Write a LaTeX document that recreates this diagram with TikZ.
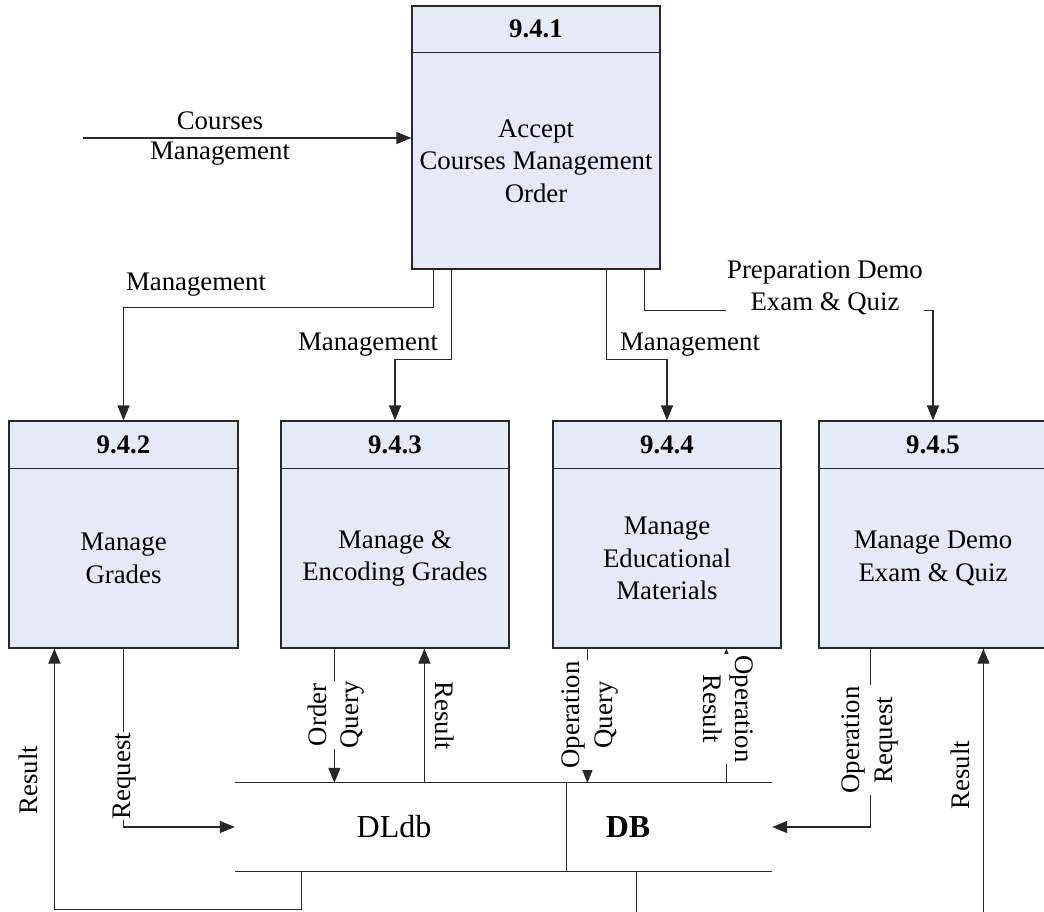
\documentclass[tikz,border=0pt]{standalone}
\usepackage{fontspec}
\setmainfont{Liberation Serif}
\usetikzlibrary{arrows.meta}
\definecolor{procfill}{RGB}{229,235,246}
\definecolor{ink}{RGB}{40,40,40}

\begin{document}
\begin{tikzpicture}[x=1pt,y=-1pt,
  every node/.style={font=\fontsize{26.8}{32.5}\selectfont, text=black},
  procbox/.style={draw=ink, fill=procfill, line width=1.2pt, inner sep=0pt},
  flow/.style={draw=ink, line width=1.2pt, -{Triangle[length=15pt,width=12pt]}},
  wire/.style={draw=ink, line width=1.2pt},
  lbl/.style={align=center, inner sep=1pt},
  onlbl/.style={lbl, fill=white},
  store/.style={inner sep=0pt, minimum height=88pt},
  storetxt/.style={font=\fontsize{32}{38}\selectfont},
]
\useasboundingbox (0,0) rectangle (1044,912);
\fill[white] (0,0) rectangle (1044,912);
\coordinate (bottomedge) at (0,912);

% ---- process 9.4.1 ----
\node[procbox, minimum width=248pt, minimum height=263pt] (p1) at (536,137.5) {};
\draw[wire] ([yshift=-47pt]p1.north west) -- ([yshift=-47pt]p1.north east);
\node (p1id) at ([yshift=-23.5pt]p1.north) {\bfseries 9.4.1};
\node[lbl] (p1txt) at ([yshift=-23.5pt]p1.center) {Accept\\Courses Management\\Order};

% ---- processes 9.4.2 -- 9.4.5 ----
\node[procbox, minimum width=229pt, minimum height=227pt] (p2) at (123.5,534.5) {};
\node[procbox, minimum width=228pt, minimum height=227pt] (p3) at (395,534.5) {};
\node[procbox, minimum width=228pt, minimum height=227pt] (p4) at (667,534.5) {};
\node[procbox, minimum width=228pt, minimum height=227pt] (p5) at (933,534.5) {};
\foreach \p in {p2,p3,p4,p5}
  \draw[wire] ([yshift=-48pt]\p.north west) -- ([yshift=-48pt]\p.north east);
\node (p2id) at ([yshift=-24pt]p2.north) {\bfseries 9.4.2};
\node (p3id) at ([yshift=-24pt]p3.north) {\bfseries 9.4.3};
\node (p4id) at ([yshift=-24pt]p4.north) {\bfseries 9.4.4};
\node (p5id) at ([yshift=-24pt]p5.north) {\bfseries 9.4.5};
\node[lbl] (p2txt) at ([yshift=-24pt]p2.center) {Manage\\Grades};
\node[lbl] (p3txt) at ([yshift=-24pt]p3.center) {Manage \&\\Encoding Grades};
\node[lbl] (p4txt) at ([yshift=-24pt]p4.center) {Manage\\Educational\\Materials};
\node[lbl] (p5txt) at ([yshift=-24pt]p5.center) {Manage Demo\\Exam \& Quiz};

% ---- data store DLdb | DB ----
\node[store, minimum width=331pt] (dl) at (400.5,827) {};
\node[store, minimum width=206pt] (db) at (669,827) {};
\draw[wire] (dl.north west) -- (db.north east);
\draw[wire] (dl.south west) -- (db.south east);
\draw[wire] (dl.north east) -- (dl.south east);
\node[storetxt] (dltxt) at (394,827) {DLdb};
\node[storetxt] (dbtxt) at (628,827) {\bfseries DB};

% ---- incoming order ----
\coordinate (cmsrc) at (83,138);
\draw[flow] (cmsrc) -- (cmsrc -| p1.west);
\node (lcm1) at (220,121) {Courses};
\node (lcm2) at (220,154) {Management};

% ---- 9.4.1 to the four sub-processes ----
\draw[flow] ([xshift=22pt]p1.south west) -- ++(0,38) -| (p2.north);
\draw[flow] ([xshift=40pt]p1.south west) -- ++(0,90) -| (p3.north);
\draw[flow] ([xshift=195pt]p1.south west) -- ++(0,90) -| (p4.north);
\draw[flow] ([xshift=233pt]p1.south west) -- ++(0,41) -| (p5.north);
\node (lm1) at (196,285) {Management};
\node (lm2) at (368,345) {Management};
\node (lm3) at (690,345) {Management};
\node[onlbl] (lprep) at (825,288) {Preparation Demo\\Exam \& Quiz};

% ---- 9.4.2 <-> store ----
\draw[flow] (p2.south) |- (dl.west);
\draw[flow] ([xshift=67pt]dl.south west) -- ++(0,38) -| ([xshift=46pt]p2.south west);
\node[onlbl, rotate=90] (lreq2) at (125,776) {Request};
\node[lbl, rotate=90] (lres2) at (28,780) {Result};

% ---- 9.4.3 <-> store ----
\draw[flow] ([xshift=54pt]p3.south west) coordinate (oq) -- (oq |- dl.north);
\coordinate (r3) at ([xshift=144pt]p3.south west);
\draw[flow] (r3 |- dl.north) -- (r3);
\node[onlbl, rotate=90] (loq3) at (336,715) {Order\\Query};
\node[lbl, rotate=-90] (lres3) at (445,716) {Result};

% ---- 9.4.4 <-> store ----
\draw[flow] ([xshift=35pt]p4.south west) coordinate (opq) -- (opq |- db.north);
\coordinate (opr) at ([xshift=174pt]p4.south west);
\draw[flow] (opr |- db.north) -- (opr);
\node[onlbl, rotate=90] (loq4) at (590,715) {Operation\\Query};
\node[onlbl, rotate=-90] (lor4) at (728,709) {Operation\\Result};

% ---- 9.4.5 <-> store ----
\draw[flow] ([xshift=52pt]p5.south west) |- (db.east);
\coordinate (r5) at ([xshift=165pt]p5.south west);
\draw[flow] (r5 |- bottomedge) -- (r5);
\node[onlbl, rotate=90] (lorq5) at (870,740) {Operation\\Request};
\node[lbl, rotate=90] (lres5) at (960,775) {Result};

% ---- outgoing line below DB ----
\draw[wire] ([xshift=71pt]db.south west) coordinate (dbout) -- (dbout |- bottomedge);
\end{tikzpicture}
\end{document}
